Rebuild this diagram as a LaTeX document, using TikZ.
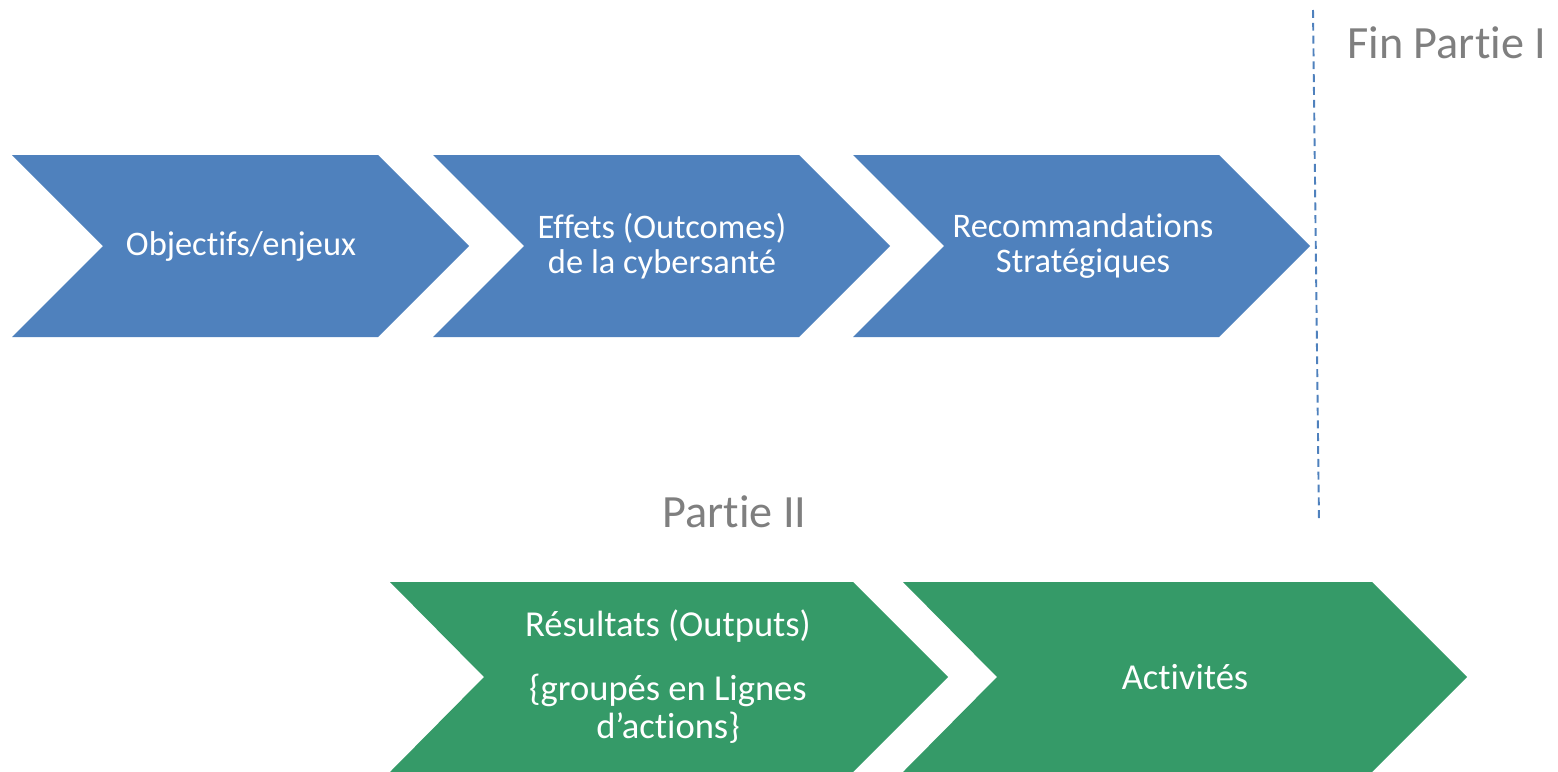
\documentclass[tikz,border=0pt]{standalone}
\usepackage{fontspec}
\setmainfont{Carlito}[Ligatures={NoCommon,NoContextual,NoRare},Contextuals=NoAlternate]
\usepackage{tikz}
\definecolor{chevblue}{HTML}{4F81BD}
\definecolor{chevgreen}{HTML}{359A68}
\definecolor{labelgray}{HTML}{7F7F7F}

\tikzset{
  bluechev/.style={fill=chevblue},
  greenchev/.style={fill=chevgreen},
  chevtext/.style={text=white, align=center, inner sep=0pt, font=\fontsize{19.6}{20}\selectfont},
  greentext/.style={chevtext, font=\fontsize{20.8}{21.6}\selectfont},
  partlabel/.style={text=labelgray, anchor=base west, inner sep=0pt, font=\fontsize{26.3}{30}\selectfont},
}

\begin{document}
\begin{tikzpicture}[x=0.02cm, y=-0.02cm]
  \useasboundingbox (0,0) rectangle (1558,771);
  \clip (0,0) rectangle (1558,771);

  % Partie I chevrons (blue)
  \foreach \x in {12,433,853} {
    \fill[bluechev] (\x,155) -- ++(366,0) -- ++(91,91) -- ++(-91,91) -- ++(-366,0) -- ++(91,-91) -- cycle;
  }

  % Partie II chevrons (green)
  \fill[greenchev] (390,582) -- (853,582) -- (948,677) -- (853,772) -- (390,772) -- (484,677) -- cycle;
  \fill[greenchev] (903,582) -- (1372,582) -- (1467,677) -- (1372,772) -- (903,772) -- (997,677) -- cycle;

  % Texts in the chevrons
  \node[chevtext] (objectifs) at (241,246) {Objectifs/enjeux};
  \node[chevtext] (effets) at (662,246) {Effets (Outcomes)\\de la cybersant\'e};
  \node[chevtext] (recommandations) at (1083,246) {Recommandations\\Strat\'egiques};
  \node[greentext] (resultats) at (668,677) {R\'esultats (Outputs)\\[14.8pt]\{group\'es en Lignes\\d’actions\}};
  \node[greentext] (activites) at (1185,677) {Activit\'es};

  % Separation line
  \coordinate (sep top) at (1313,10);
  \coordinate (sep bottom) at (1319,522);
  \draw[chevblue, line width=1.1pt, dash pattern=on 4.5pt off 2.8pt] (sep top) -- (sep bottom);

  % Part labels
  \node[partlabel] (fin partie) at (1347,58) {Fin Partie I};
  \node[partlabel] (partie deux) at (662,527) {Partie II};
\end{tikzpicture}
\end{document}
